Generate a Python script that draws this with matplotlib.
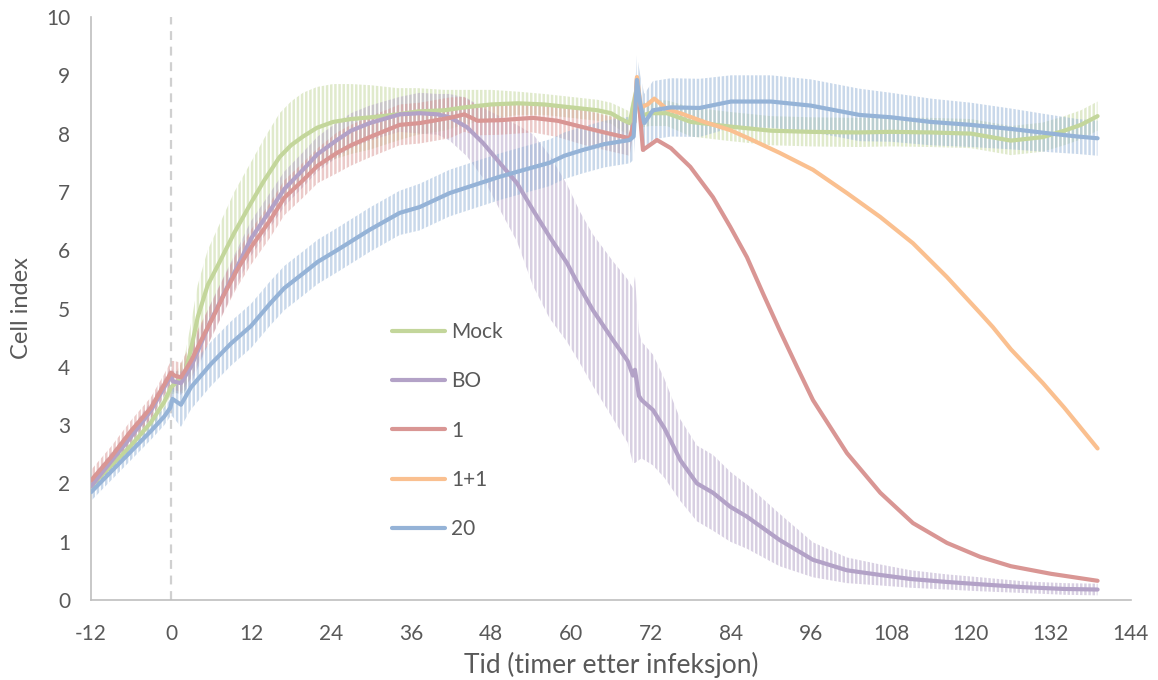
import matplotlib
matplotlib.use('Agg')
import matplotlib.pyplot as plt
import numpy as np

# time (h after infection), mean cell index and error (half-width)
MOCK_T = [-12, -9, -6, -3, -1, 0, 1, 2, 3, 4, 5.5, 7.3, 9.5, 12, 14, 16.3, 18, 19.8, 21.9,
          24.3, 27, 30, 34, 37, 41, 44, 48, 52, 56, 60, 64, 66, 67.5, 68.8, 69.9, 70.4,
          71.8, 74.4, 78, 84, 90, 96, 103, 108, 114, 120, 126, 130.8, 134, 136.5, 139]
MOCK_Y = [1.95, 2.3, 2.65, 3.05, 3.4, 3.65, 3.75, 3.85, 4.3, 4.85, 5.4, 5.8, 6.3, 6.81, 7.2,
          7.6, 7.8, 7.95, 8.1, 8.2, 8.25, 8.28, 8.33, 8.38, 8.4, 8.45, 8.5, 8.52, 8.5, 8.45,
          8.4, 8.35, 8.25, 8.18, 8.8, 8.3, 8.35, 8.35, 8.2, 8.12, 8.05, 8.03, 8.02, 8.03,
          8.02, 8.0, 7.88, 7.94, 8.05, 8.15, 8.3]
MOCK_E = [0.12, 0.12, 0.12, 0.12, 0.12, 0.12, 0.2, 0.3, 0.45, 0.55, 0.6, 0.65, 0.7, 0.7, 0.72,
          0.75, 0.75, 0.75, 0.7, 0.65, 0.6, 0.55, 0.45, 0.4, 0.35, 0.3, 0.25, 0.2, 0.18, 0.18,
          0.18, 0.18, 0.2, 0.2, 0.2, 0.2, 0.22, 0.22, 0.25, 0.25, 0.25, 0.25, 0.25, 0.25,
          0.25, 0.25, 0.25, 0.25, 0.25, 0.25, 0.25]

BO_T = [-12, -6, -3, -1, 0, 0.3, 1.5, 3, 6, 9, 12, 14.9, 17, 19.8, 22, 24.9, 27, 29.8, 34.3,
        37.3, 40, 41.8, 44.4, 46.8, 49.3, 51.9, 54.3, 56.8, 59.4, 61.3, 63.3, 66.3, 68.5,
        69.3, 69.6, 70.2, 70.6, 72.3, 74, 76.4, 78.9, 81.3, 83.9, 86.4, 91.3, 96.3, 101.4,
        106.4, 111, 116.4, 121.4, 128, 134, 139]
BO_Y = [1.95, 2.8, 3.25, 3.65, 3.85, 3.75, 3.72, 4.0, 4.8, 5.5, 6.2, 6.69, 7.05, 7.38, 7.65,
        7.89, 8.05, 8.18, 8.33, 8.35, 8.33, 8.28, 8.11, 7.84, 7.5, 7.15, 6.69, 6.23, 5.78,
        5.37, 4.97, 4.46, 4.1, 3.85, 3.95, 3.5, 3.43, 3.26, 2.95, 2.4, 2.0, 1.84, 1.6, 1.43,
        1.03, 0.69, 0.51, 0.43, 0.36, 0.31, 0.27, 0.22, 0.19, 0.18]
BO_E = [0.15, 0.15, 0.15, 0.15, 0.15, 0.18, 0.2, 0.3, 0.3, 0.3, 0.3, 0.3, 0.3, 0.3, 0.3, 0.3,
        0.3, 0.3, 0.3, 0.35, 0.35, 0.4, 0.5, 0.6, 0.8, 1.0, 1.3, 1.4, 1.35, 1.3, 1.3, 1.35,
        1.4, 1.5, 1.6, 1.1, 1.0, 0.95, 0.85, 0.7, 0.65, 0.65, 0.6, 0.55, 0.45, 0.3, 0.22,
        0.18, 0.15, 0.13, 0.12, 0.1, 0.1, 0.1]

R1_T = [-12, -9, -6, -3, -1, 0, 0.5, 1.5, 3, 4.5, 6.3, 8, 9.9, 12, 14.9, 17, 19.8, 22, 24.9,
        27, 29.8, 34.3, 37.3, 41.8, 44, 46, 49.3, 54.3, 58, 61.8, 65, 68.8, 69.5, 69.9,
        70.8, 72.9, 75, 77.9, 81.3, 83.9, 86.4, 88.8, 91.3, 93.9, 96.3, 101.4, 106.4,
        111.3, 116.4, 121.4, 126, 132, 139]
R1_Y = [2.05, 2.45, 2.9, 3.3, 3.7, 3.9, 3.85, 3.82, 4.1, 4.45, 4.85, 5.25, 5.66, 6.05, 6.52,
        6.9, 7.2, 7.45, 7.67, 7.8, 7.94, 8.15, 8.18, 8.27, 8.33, 8.22, 8.23, 8.27, 8.22,
        8.11, 8.02, 7.92, 8.2, 8.95, 7.72, 7.89, 7.75, 7.43, 6.91, 6.4, 5.88, 5.26, 4.63,
        4.0, 3.43, 2.52, 1.84, 1.32, 0.98, 0.74, 0.58, 0.45, 0.33]
R1_E = [0.18, 0.18, 0.18, 0.18, 0.18, 0.2, 0.25, 0.25, 0.3, 0.3, 0.3, 0.3, 0.3, 0.3, 0.3,
        0.3, 0.3, 0.3, 0.35, 0.35, 0.35, 0.35, 0.35, 0.35, 0.3, 0.25, 0.25, 0.25, 0.28,
        0.3, 0.3, 0.3, 0.1, 0.1, 0, 0, 0, 0, 0, 0, 0, 0, 0, 0, 0, 0, 0, 0, 0, 0, 0, 0, 0]

R11_T = [69.5, 69.9, 70.5, 71.5, 72.5, 74.4, 76.4, 80, 83.9, 87, 91.3, 96.3, 101.4, 106.4,
         111.3, 116.4, 121.4, 123.3, 126, 130.8, 134, 139]
R11_Y = [8.2, 8.97, 8.45, 8.5, 8.6, 8.42, 8.35, 8.2, 8.06, 7.9, 7.67, 7.38, 6.98, 6.57, 6.12,
         5.54, 4.92, 4.68, 4.3, 3.72, 3.3, 2.6]

B20_T = [-12, -9, -6, -3, -1, -0.1, 0.2, 1.5, 3, 4.5, 6, 9, 12, 14.9, 17, 19.8, 22, 24.9, 27,
         29.8, 34.3, 37.3, 41.8, 45, 49.3, 53, 56.8, 59, 61.8, 65, 68.8, 69.4, 69.9, 70.4,
         71, 72.3, 75, 79.3, 84, 90, 96, 103.3, 108, 114, 120, 126, 132, 136, 139]
B20_Y = [1.85, 2.2, 2.55, 2.9, 3.15, 3.3, 3.45, 3.35, 3.65, 3.85, 4.05, 4.4, 4.7, 5.09, 5.35,
         5.6, 5.8, 6.0, 6.15, 6.35, 6.64, 6.74, 6.98, 7.1, 7.26, 7.38, 7.5, 7.62, 7.72, 7.82,
         7.89, 7.95, 8.92, 8.5, 8.18, 8.4, 8.45, 8.44, 8.55, 8.55, 8.48, 8.32, 8.28, 8.2,
         8.15, 8.08, 8.0, 7.95, 7.92]
B20_E = [0.15, 0.15, 0.15, 0.15, 0.15, 0.15, 0.3, 0.38, 0.38, 0.38, 0.38, 0.38, 0.38, 0.38,
         0.38, 0.38, 0.38, 0.38, 0.38, 0.38, 0.38, 0.4, 0.4, 0.4, 0.4, 0.4, 0.4, 0.4, 0.4,
         0.4, 0.4, 0.4, 0.42, 0.5, 0.5, 0.5, 0.5, 0.5, 0.45, 0.45, 0.45, 0.45, 0.42, 0.4,
         0.38, 0.35, 0.32, 0.3, 0.3]

SERIES = [
    ('Mock', MOCK_T, MOCK_Y, MOCK_E, '#C3D69B'),
    ('BO', BO_T, BO_Y, BO_E, '#B3A2C7'),
    ('1', R1_T, R1_Y, R1_E, '#D99694'),
    ('1+1', R11_T, R11_Y, None, '#FAC090'),
    ('20', B20_T, B20_Y, B20_E, '#95B3D7'),
]

XTICKS = list(range(-12, 145, 12))
TEXT = '#595959'

plt.rcParams['font.family'] = ['Lato', 'DejaVu Sans']
plt.rcParams['hatch.linewidth'] = 1.8
plt.rcParams['axes.unicode_minus'] = False

fig = plt.figure(figsize=(11.58, 6.8), dpi=100)
ax = fig.add_axes([0.0786, 0.1176, 0.898, 0.8574])

ax.axvline(0, color='#D0D0D0', lw=1.6, ls=(0, (4, 3)), zorder=0)

# error bars drawn as vertically striped bands
for name, t, y, e, col in SERIES:
    if e is None:
        continue
    t, y, e = np.array(t), np.array(y), np.array(e)
    ax.fill_between(t, y - e, y + e, where=e > 0, interpolate=False,
                    facecolor='none', edgecolor=col, hatch='||||',
                    linewidth=0, alpha=0.5, zorder=1)

for name, t, y, e, col in SERIES:
    ax.plot(t, y, color=col, lw=3.0, label=name, zorder=3,
            solid_capstyle='round', solid_joinstyle='round')

ax.set_xlim(-12, 144)
ax.set_ylim(0, 10)
ax.set_xticks(XTICKS)
ax.set_yticks(range(0, 11))
ax.tick_params(length=0, labelsize=15, colors=TEXT)
ax.tick_params(axis='x', pad=17)
ax.tick_params(axis='y', pad=15)
for s in ['top', 'right']:
    ax.spines[s].set_visible(False)
for s in ['left', 'bottom']:
    ax.spines[s].set_color('#BFBFBF')
    ax.spines[s].set_linewidth(1.2)

ax.set_xlabel('Tid (timer etter infeksjon)', fontsize=19, color=TEXT, labelpad=6)
ax.set_ylabel('Cell index', fontsize=17, color=TEXT, labelpad=10)

ax.legend(loc='center left', bbox_to_anchor=(0.271, 0.2905), frameon=False,
          fontsize=15, labelcolor=TEXT, handlelength=2.55, handletextpad=0.3,
          labelspacing=1.40)

fig.savefig('out.png', dpi=100)
